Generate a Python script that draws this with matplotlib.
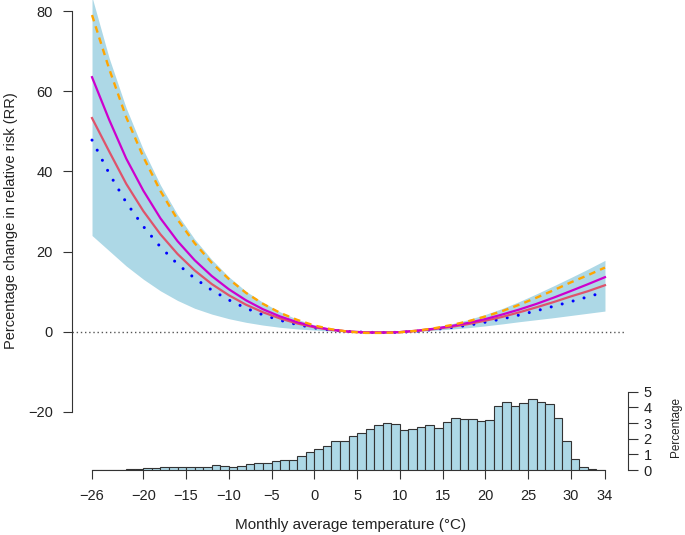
import numpy as np
import matplotlib.pyplot as plt

plt.rcParams['font.family'] = ['Liberation Sans', 'DejaVu Sans']

# temperature grid (°C) for the curves
temp = list(range(-26, 35, 2))

# percentage change in RR
orange = [79.0, 65.6, 53.5, 43.6, 35.1, 28.0, 22.1, 17.2, 13.15, 9.7, 6.95, 4.7, 2.95, 1.55, 0.6, 0.0, -0.3,
          -0.3, -0.15, 0.25, 0.85, 1.65, 2.6, 3.8, 5.15, 6.75, 8.5, 10.35, 12.3, 14.1, 16.0]
magenta = [63.5, 52.9, 43.2, 35.2, 28.3, 22.6, 17.85, 13.9, 10.6, 7.85, 5.6, 3.8, 2.38, 1.25, 0.5, 0.03, -0.2,
           -0.2, -0.1, 0.25, 0.75, 1.4, 2.2, 3.15, 4.3, 5.55, 6.95, 8.5, 10.15, 11.85, 13.6]
red = [53.3, 45.0, 36.9, 30.1, 24.3, 19.4, 15.3, 11.9, 9.1, 6.75, 4.85, 3.3, 2.05, 1.1, 0.45, 0.05, -0.15,
       -0.2, -0.1, 0.2, 0.65, 1.2, 1.9, 2.75, 3.7, 4.85, 6.1, 7.4, 8.8, 10.1, 11.6]
blue = [47.8, 39.5, 32.25, 26.27, 21.15, 16.88, 13.33, 10.38, 7.92, 5.86, 4.2, 2.85, 1.78, 0.95, 0.38, 0.05, -0.15,
        -0.2, -0.15, 0.12, 0.55, 1.03, 1.6, 2.37, 3.2, 4.17, 5.23, 6.35, 7.5, 8.7, 9.95]
ci_upper = [83.5, 68.3, 55.8, 45.4, 36.6, 29.2, 23.1, 18.0, 13.7, 10.1, 7.3, 4.95, 3.1, 1.7, 0.75, 0.15, -0.1,
            -0.1, 0.1, 0.45, 1.1, 1.95, 3.0, 4.3, 5.8, 7.55, 9.45, 11.45, 13.5, 15.6, 17.8]
ci_lower = [24.0, 20.2, 16.4, 13.1, 10.2, 7.8, 5.85, 4.4, 3.25, 2.35, 1.65, 1.1, 0.7, 0.4, 0.15, -0.05, -0.2,
            -0.25, -0.2, 0.1, 0.35, 0.65, 1.0, 1.45, 1.95, 2.5, 3.0, 3.5, 4.05, 4.6, 5.15]

# histogram of monthly temperatures, 1 °C bins from -26 to 34 (percent)
bin_left = list(range(-26, 34))
hist_pct = [0, 0, 0, 0, 0.04, 0.08, 0.1, 0.15, 0.18, 0.18, 0.18, 0.2, 0.22, 0.22, 0.3, 0.26, 0.22, 0.28,
            0.38, 0.43, 0.47, 0.58, 0.64, 0.64, 0.92, 1.15, 1.32, 1.56, 1.84, 1.84, 2.2, 2.37, 2.65, 2.9,
            3.03, 2.97, 2.56, 2.63, 2.73, 2.86, 2.71, 3.06, 3.31, 3.29, 3.25, 3.14, 3.2, 4.12, 4.38, 4.1,
            4.3, 4.57, 4.36, 4.25, 3.35, 1.88, 0.73, 0.17, 0.04, 0.03]

x_ticks = [-26, -20, -15, -10, -5, 0, 5, 10, 15, 20, 25, 30, 34]
y_ticks = [-20, 0, 20, 40, 60, 80]
pct_ticks = [0, 1, 2, 3, 4, 5]

fig = plt.figure(figsize=(6.85, 5.35), dpi=100)
ax = fig.add_axes([71.5 / 685, 65 / 535, 554 / 685, 470 / 535])
ax.set_xlim(-28.4, 36.4)
ax.set_ylim(-34.5, 82.75)

# confidence band and curves
ax.fill_between(temp, ci_lower, ci_upper, color='#ADD8E6', lw=0, zorder=1)
ax.axhline(0, color='#555555', linestyle=(0, (1, 2)), lw=1, zorder=2)
ax.plot(temp, blue, color='blue', lw=2.2, linestyle=(0, (0.01, 3.7)), dash_capstyle='round', zorder=3)
ax.plot(temp, red, color='#DF536B', lw=1.6, zorder=4)
ax.plot(temp, magenta, color='#CD00CD', lw=1.6, zorder=5)
ax.plot(temp, orange, color='orange', lw=1.7, linestyle=(0, (2.8, 2.2)), zorder=6)

for s in ['top', 'right']:
    ax.spines[s].set_visible(False)
ax.spines['left'].set_bounds(-20, 80)
ax.spines['bottom'].set_bounds(-26, 34)
for s in ['left', 'bottom']:
    ax.spines[s].set_color('#333333')
    ax.spines[s].set_linewidth(0.8)
ax.set_xticks(x_ticks)
ax.set_yticks(y_ticks)
ax.tick_params(axis='both', labelsize=10.5, length=6.5, width=0.8, color='#333333', labelcolor='#222222')
ax.tick_params(axis='y', pad=7)
ax.tick_params(axis='x', pad=7)
ax.set_ylabel('Percentage change in relative risk (RR)', fontsize=10.5, color='#222222')
ax.yaxis.set_label_coords(-0.096, 0.53)
ax.set_xlabel('Monthly average temperature (°C)', fontsize=11, color='#222222')
ax.xaxis.set_label_coords(0.503, -0.103)

# histogram on a secondary axis
ax2 = ax.twinx()
ax2.set_ylim(0, (82.75 + 34.5) / 3.9)
ax2.bar(bin_left, hist_pct, width=1, align='edge', color='#ADD8E6', edgecolor='#333333', lw=0.8, zorder=2)
for s in ['top', 'left', 'bottom']:
    ax2.spines[s].set_visible(False)
ax2.spines['right'].set_position(('outward', 2))
ax2.spines['right'].set_bounds(0, 5)
ax2.spines['right'].set_color('#333333')
ax2.spines['right'].set_linewidth(0.8)
ax2.set_yticks(pct_ticks)
ax2.tick_params(axis='y', labelsize=10.5, length=7, width=0.8, color='#333333', labelcolor='#222222', pad=4)
ax2.set_ylabel('Percentage', fontsize=8.5, color='#222222')
ax2.yaxis.set_label_coords(1.08, 0.0915)

fig.savefig('out.png', dpi=100)
